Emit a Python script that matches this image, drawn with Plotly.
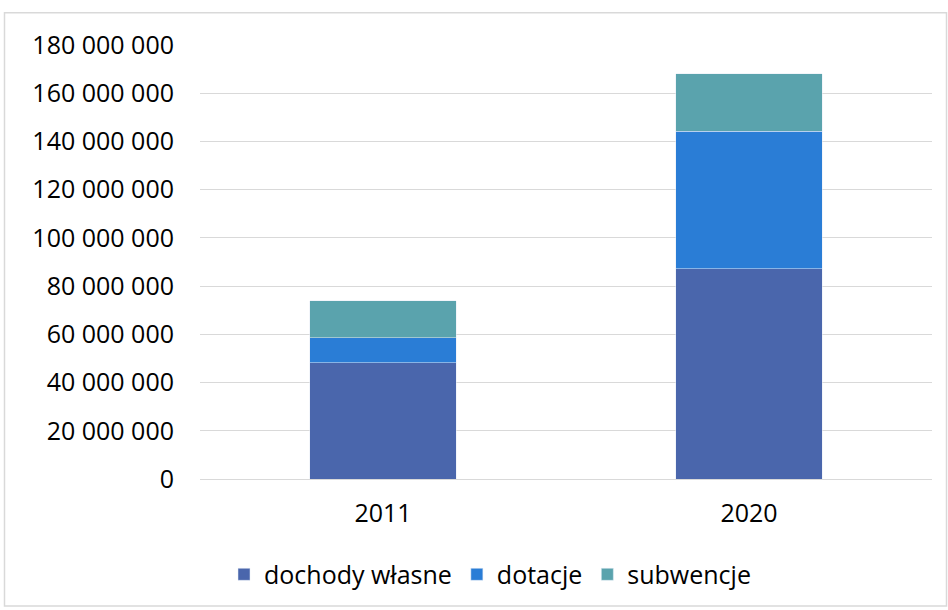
import plotly.graph_objects as go

years = ["2011", "2020"]
dochody_wlasne = [48_200_000, 87_300_000]
dotacje = [10_400_000, 56_900_000]
subwencje = [15_400_000, 23_800_000]
tick_vals = [0, 20_000_000, 40_000_000, 60_000_000, 80_000_000, 100_000_000,
             120_000_000, 140_000_000, 160_000_000, 180_000_000]

W, H = 948, 610
L, R, T, B = 200, 16, 45, 129
pw, ph = W - L - R, H - T - B

fig = go.Figure()
fig.add_bar(x=years, y=dochody_wlasne, name="dochody własne", marker_color="#4A66AC")
fig.add_bar(x=years, y=dotacje, name="dotacje", marker_color="#2A7DD6")
fig.add_bar(x=years, y=subwencje, name="subwencje", marker_color="#5AA3AD")

def px2x(px):
    return (px - L) / pw

def py2y(py):
    return (H - B - py) / ph

fig.update_layout(
    width=W, height=H,
    barmode="stack", bargap=0.6,
    separators=". ",
    margin=dict(l=L, r=R, t=T, b=B),
    plot_bgcolor="white", paper_bgcolor="white",
    font=dict(family="Open Sans, Lato, sans-serif", size=25, color="#000000"),
    xaxis=dict(showgrid=False, showline=True, linecolor="#D9D9D9", linewidth=1,
               ticks="", tickfont=dict(size=25), ticklabelstandoff=12),
    yaxis=dict(range=[0, 180_000_000], tickvals=tick_vals, tickformat=",d",
               showgrid=True, gridcolor="#D9D9D9", gridwidth=1, zeroline=False,
               showline=False, ticks="", tickfont=dict(size=25), ticklabelstandoff=25),
    legend=dict(orientation="h", x=px2x(490), y=py2y(577), xanchor="center", yanchor="middle",
                font=dict(size=25), traceorder="normal"),
    shapes=[dict(type="rect", xref="paper", yref="paper",
                 x0=px2x(4.5), x1=px2x(946.5), y0=py2y(608.5), y1=py2y(12.5),
                 line=dict(color="#D9D9D9", width=1.5), fillcolor="rgba(0,0,0,0)",
                 layer="below")],
    showlegend=True,
)

fig.write_html("out.html", config={"displayModeBar": False},
               post_script="document.body.style.margin='0px';")
